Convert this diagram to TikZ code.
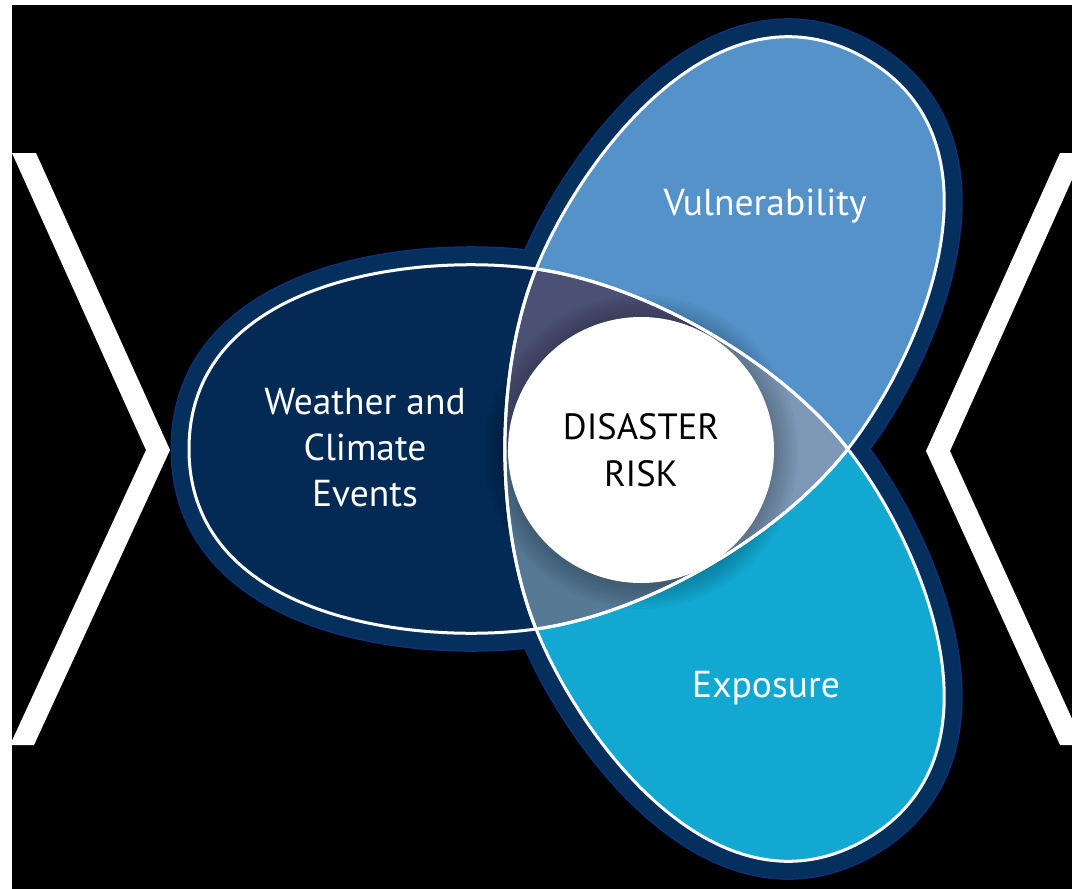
\documentclass[tikz,border=0pt]{standalone}
\usepackage{fontspec}
\setmainfont{PT Sans}
\definecolor{navyfill}{RGB}{3,42,84}
\definecolor{navyborder}{RGB}{5,47,93}
\definecolor{rimblue}{RGB}{16,48,120}
\definecolor{vulnblue}{RGB}{85,146,201}
\definecolor{expocyan}{RGB}{18,168,209}
\definecolor{purplecorner}{RGB}{74,81,116}
\definecolor{graycorner}{RGB}{124,152,182}
\definecolor{slatecorner}{RGB}{86,122,150}
\newcommand\petalpath{(-451,0) .. controls (-451,170) and (-222.8,196.7) .. (-104,180) .. controls (5.9,164.6) and (139.6,87.5) .. (208,0) .. controls (139.6,-87.5) and (5.9,-164.6) .. (-104,-180) .. controls (-222.8,-196.7) and (-451,-170) .. cycle}
\tikzset{
  petalL/.style={shift={(640,449)}},
  petalV/.style={shift={(640,449)},rotate=-120},
  petalE/.style={shift={(640,449)},rotate=120},
  petalrim/.style={draw=rimblue,line width=37pt,line join=round},
  petalborder/.style={draw=navyborder,line width=34pt,line join=round},
  petaloutline/.style={draw=white,line width=3pt},
  lbl/.style={text=white,font=\fontsize{37.5}{46}\selectfont,align=center,inner sep=0pt},
}
\begin{document}
\begin{tikzpicture}[x=1pt,y=-1pt]
\useasboundingbox (0,0) rectangle (1072,889);
\clip (0,0) rectangle (1072,889);
\fill[white] (0,0) rectangle (1072,889);
\fill[black] (12,5) rectangle (1072,889);
% chevrons
\fill[white] (12,153) -- (36,153) -- (170,450) -- (34,745) -- (10,745) -- (146,450) -- cycle;
\fill[white] (1060,153) -- (1084,153) -- (950,451) -- (1084,745) -- (1060,745) -- (926,451) -- cycle;
% outer borders
\draw[petalrim,petalL] \petalpath;
\draw[petalrim,petalV] \petalpath;
\draw[petalrim,petalE] \petalpath;
\draw[petalborder,petalL] \petalpath;
\draw[petalborder,petalV] \petalpath;
\draw[petalborder,petalE] \petalpath;
% fills
\fill[navyfill,petalL] \petalpath;
\fill[vulnblue,petalV] \petalpath;
\fill[expocyan,petalE] \petalpath;
% central overlap
\begin{scope}
\clip[petalL] \petalpath;
\clip[petalV] \petalpath;
\clip[petalE] \petalpath;
\fill[purplecorner] (640,449) -- (940,-71) -- (340,-71) -- (40,449) -- cycle;
\fill[graycorner] (640,449) -- (940,-71) -- (1240,449) -- (940,969) -- cycle;
\fill[slatecorner] (640,449) -- (40,449) -- (340,969) -- (940,969) -- cycle;
\end{scope}
% soft shadow of the circle
\foreach \k in {1,...,8}
  \fill[black,opacity=0.028] (641,452) circle[radius={133+3*\k}];
% white outlines
\draw[petaloutline,petalL] \petalpath;
\draw[petaloutline,petalV] \petalpath;
\draw[petaloutline,petalE] \petalpath;
% centre
\node[circle,fill=white,minimum size=266pt,inner sep=0pt,align=center,
      font=\fontsize{36.5}{47}\selectfont,text=black] (risk) at (641,450) {DISASTER\\RISK};
% labels
\node[lbl] (weather) at (365,448) {Weather and\\Climate\\Events};
\node[lbl,anchor=base] (vuln) at (765,215) {Vulnerability};
\node[lbl,anchor=base] (expo) at (766,697) {Exposure};
\end{tikzpicture}
\end{document}
